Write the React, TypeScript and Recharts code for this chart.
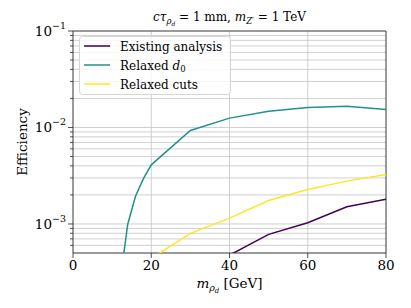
import React from 'react';
import { LineChart, Line, XAxis, YAxis, CartesianGrid, ReferenceArea, Customized } from 'recharts';

// Dark-meson mass m_rho_d [GeV]
const masses = [12, 14, 16, 18, 20, 30, 40, 50, 60, 70, 80];
// Efficiencies (undefined = no point)
const existingAnalysis = [undefined, undefined, undefined, undefined, undefined, undefined, 4.75e-4, 7.8e-4, 1.03e-3, 1.51e-3, 1.8e-3];
const relaxedD0 = [2.5e-4, 1.0e-3, 1.95e-3, 2.95e-3, 4.1e-3, 9.3e-3, 1.25e-2, 1.47e-2, 1.61e-2, 1.66e-2, 1.54e-2];
const relaxedCuts = [undefined, undefined, undefined, undefined, 4.4e-4, 8.0e-4, 1.15e-3, 1.75e-3, 2.28e-3, 2.78e-3, 3.26e-3];

const seriesNames = ['Existing analysis', 'Relaxed d0', 'Relaxed cuts'];
const seriesColors = ['#440154', '#21918c', '#fde725'];

const xTicks = [0, 20, 40, 60, 80];
const yTicks = [
  6e-4, 7e-4, 8e-4, 9e-4,
  1e-3, 2e-3, 3e-3, 4e-3, 5e-3, 6e-3, 7e-3, 8e-3, 9e-3,
  1e-2, 2e-2, 3e-2, 4e-2, 5e-2, 6e-2, 7e-2, 8e-2, 9e-2,
  1e-1,
];

const data = masses.map((m, i) => ({
  m,
  existing: existingAnalysis[i],
  d0: relaxedD0[i],
  cuts: relaxedCuts[i],
}));

const FONT = '"DejaVu Serif", serif';
const AXIS = '#262626';

const YTick = (props: any) => {
  const { x, y, payload } = props;
  const v = payload.value as number;
  const lg = Math.log10(v);
  const exp = Math.round(lg);
  const isMajor = Math.abs(lg - exp) < 1e-6;
  return (
    <g>
      <line x1={x} x2={x - (isMajor ? 5 : 3)} y1={y} y2={y} stroke={AXIS} strokeWidth={0.8} />
      {isMajor && (
        <text x={x - 7} y={y + 5} textAnchor="end" fontFamily={FONT} fontSize={13.5} fill="#000">
          10<tspan dy={-7} fontSize={9.5}>{'\u2212' + String(-exp)}</tspan>
        </text>
      )}
    </g>
  );
};

const XTick = (props: any) => {
  const { x, y, payload } = props;
  return (
    <g>
      <line x1={x} x2={x} y1={y} y2={y + 5} stroke={AXIS} strokeWidth={0.8} />
      <text x={x} y={y + 17} textAnchor="middle" fontFamily={FONT} fontSize={13.5} fill="#000">
        {payload.value}
      </text>
    </g>
  );
};

const Annotations = () => {
  const rows = [46, 65, 84];
  return (
    <g>
      <text x={229.5} y={21} textAnchor="middle" fontFamily={FONT} fontSize={12} fill="#000">
        <tspan fontStyle="italic">cτ</tspan>
        <tspan fontStyle="italic" fontSize={8.5} dy={3}>ρ</tspan>
        <tspan fontStyle="italic" fontSize={6} dy={1.5}>d</tspan>
        <tspan dy={-4.5}>{' = 1 mm, '}</tspan>
        <tspan fontStyle="italic">m</tspan>
        <tspan fontStyle="italic" fontSize={8.5} dy={3}>{'Z\u2032'}</tspan>
        <tspan dy={-3}>{' = 1 TeV'}</tspan>
      </text>
      <text x={22} y={142} transform="rotate(-90 22 142)" textAnchor="middle" dominantBaseline="central" fontFamily={FONT} fontSize={13.5} fill="#000">
        Efficiency
      </text>
      <text x={229.5} y={288} textAnchor="middle" fontFamily={FONT} fontSize={13.5} fill="#000">
        <tspan fontStyle="italic">m</tspan>
        <tspan fontStyle="italic" fontSize={9.5} dy={3}>ρ</tspan>
        <tspan fontStyle="italic" fontSize={7} dy={1.5}>d</tspan>
        <tspan dy={-4.5}>{' [GeV]'}</tspan>
      </text>
      <rect x={79.5} y={36.5} width={151} height={58} rx={3} ry={3} fill="#ffffff" fillOpacity={0.8} stroke="#cccccc" strokeWidth={0.8} />
      {seriesNames.map((name, i) => (
        <g key={name}>
          <line x1={84} x2={110} y1={rows[i]} y2={rows[i]} stroke={seriesColors[i]} strokeWidth={1.5} />
          <text x={120} y={rows[i] + 4.5} fontFamily={FONT} fontSize={12} fill="#000">
            {name === 'Relaxed d0' ? (
              <>
                Relaxed <tspan fontStyle="italic">d</tspan>
                <tspan fontSize={8.5} dy={2.5}>0</tspan>
              </>
            ) : (
              name
            )}
          </text>
        </g>
      ))}
    </g>
  );
};

export default function App() {
  return (
    <div style={{ position: 'absolute', left: 0, top: 0, background: '#fff' }}>
      <LineChart width={411} height={308} data={data} margin={{ top: 31, right: 25, bottom: 0, left: 0 }}>
        <CartesianGrid stroke="#c4c4c4" strokeWidth={0.8} />
        <XAxis
          dataKey="m"
          type="number"
          domain={[0, 80]}
          ticks={xTicks}
          height={55}
          tickSize={0}
          tickMargin={0}
          axisLine={false}
          tickLine={false}
          tick={<XTick />}
          interval={0}
          allowDataOverflow
        />
        <YAxis
          type="number"
          scale="log"
          domain={[5e-4, 0.1]}
          ticks={yTicks}
          width={73}
          tickSize={0}
          tickMargin={0}
          axisLine={false}
          tickLine={false}
          tick={<YTick />}
          interval={0}
          allowDataOverflow
        />
        <Line dataKey="existing" name={seriesNames[0]} stroke={seriesColors[0]} strokeWidth={1.5} dot={false} isAnimationActive={false} />
        <Line dataKey="d0" name={seriesNames[1]} stroke={seriesColors[1]} strokeWidth={1.5} dot={false} isAnimationActive={false} />
        <Line dataKey="cuts" name={seriesNames[2]} stroke={seriesColors[2]} strokeWidth={1.5} dot={false} isAnimationActive={false} />
        <ReferenceArea x1={0} x2={80} y1={5e-4} y2={0.1} fill="none" stroke={AXIS} strokeWidth={0.8} ifOverflow="visible" />
        <Customized component={<Annotations />} />
      </LineChart>
    </div>
  );
}
